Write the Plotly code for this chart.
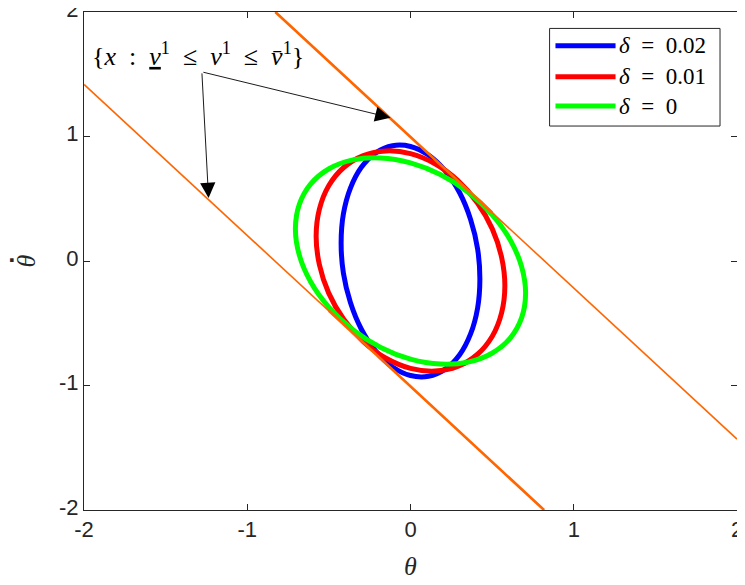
import plotly.graph_objects as go

# ---- data ----
blue_theta = [0.425, 0.411, 0.368, 0.301, 0.213, 0.110, 0.0, -0.110, -0.213, -0.301, -0.368, -0.411,
              -0.425, -0.411, -0.368, -0.301, -0.213, -0.110, 0.0, 0.110, 0.213, 0.301, 0.368, 0.411, 0.425]
blue_thetadot = [-0.145, 0.098, 0.334, 0.548, 0.724, 0.851, 0.920, 0.926, 0.869, 0.753, 0.586, 0.378,
                 0.145, -0.098, -0.334, -0.548, -0.724, -0.851, -0.920, -0.926, -0.869, -0.753, -0.586, -0.378, -0.145]

red_theta = [0.578, 0.558, 0.501, 0.409, 0.289, 0.150, 0.0, -0.150, -0.289, -0.409, -0.501, -0.558,
             -0.578, -0.558, -0.501, -0.409, -0.289, -0.150, 0.0, 0.150, 0.289, 0.409, 0.501, 0.558, 0.578]
red_thetadot = [-0.200, 0.030, 0.258, 0.468, 0.647, 0.781, 0.862, 0.884, 0.847, 0.751, 0.604, 0.416,
                0.200, -0.030, -0.258, -0.468, -0.647, -0.781, -0.862, -0.884, -0.847, -0.751, -0.604, -0.416, -0.200]

green_theta = [0.705, 0.681, 0.611, 0.499, 0.353, 0.183, 0.0, -0.183, -0.353, -0.499, -0.611, -0.681,
               -0.705, -0.681, -0.611, -0.499, -0.353, -0.183, 0.0, 0.183, 0.353, 0.499, 0.611, 0.681, 0.705]
green_thetadot = [-0.260, -0.047, 0.169, 0.373, 0.552, 0.694, 0.788, 0.828, 0.812, 0.741, 0.619, 0.455,
                  0.260, 0.047, -0.169, -0.373, -0.552, -0.694, -0.788, -0.828, -0.812, -0.741, -0.619, -0.455, -0.260]

# constraint lines  v^1 = upper / lower bound
upper_theta = [-0.828, 2.0]
upper_thetadot = [2.0, -1.43]
upper_thick_theta = [-0.828, 0.50]
upper_thick_thetadot = [2.0, 0.39]
lower_theta = [-2.0, 0.818]
lower_thetadot = [1.418, -2.0]
lower_thick_theta = [-0.50, 0.818]
lower_thick_thetadot = [-0.40, -2.0]

EN = "\u2002"
legend_labels = [f"<i>δ</i>{EN}={EN}0.02", f"<i>δ</i>{EN}={EN}0.01", f"<i>δ</i>{EN}={EN}0"]
colors = ["#0000FF", "#FF0000", "#00FF00"]
x_ticks = [-2, -1, 0, 1, 2]
y_ticks = [-2, -1, 0, 1, 2]

annot_text = ("{<i>x</i>" + EN + ":" + EN + "<u><i>v</i></u><sup>1</sup>" + EN + "≤" + EN +
              "<i>v</i><sup>1</sup>" + EN + "≤" + EN + "<i>v̄</i><sup>1</sup>}")
annot_tail = (-1.278, 1.519)
annot_tips = [(-0.123, 1.151), (-1.237, 0.506)]
annot_pos = (-1.30, 1.66)

ORANGE = "#FF6600"
SERIF = "Liberation Serif"

fig = go.Figure()
for xs, ys, c, lab in zip([blue_theta, red_theta, green_theta],
                          [blue_thetadot, red_thetadot, green_thetadot], colors, legend_labels):
    fig.add_trace(go.Scatter(x=xs, y=ys, mode="lines", line=dict(color=c, width=5, shape="spline", smoothing=1.0),
                             name=lab, showlegend=False, hoverinfo="skip"))

for xs, ys, w in [(upper_theta, upper_thetadot, 1.6), (lower_theta, lower_thetadot, 1.6),
                  (upper_thick_theta, upper_thick_thetadot, 2.6), (lower_thick_theta, lower_thick_thetadot, 2.6)]:
    fig.add_trace(go.Scatter(x=xs, y=ys, mode="lines", line=dict(color=ORANGE, width=w),
                             showlegend=False, hoverinfo="skip"))

# manual legend (MATLAB-like long line samples)
shapes = [dict(type="rect", xref="paper", yref="paper", x0=0.713, x1=0.974, y0=0.771, y1=0.967,
               line=dict(color="#262626", width=1), fillcolor="white", layer="above")]
annotations = []
row_y = [0.932, 0.870, 0.811]
for ry, c, lab in zip(row_y, colors, legend_labels):
    shapes.append(dict(type="line", xref="paper", yref="paper", x0=0.722, x1=0.814, y0=ry, y1=ry,
                       line=dict(color=c, width=5), layer="above"))
    annotations.append(dict(xref="paper", yref="paper", x=0.816, y=ry, text=lab, showarrow=False,
                            xanchor="left", yanchor="middle", font=dict(family=SERIF, size=23, color="black")))

# annotation text and arrows
annotations.append(dict(x=annot_pos[0], y=annot_pos[1], xref="x", yref="y", text=annot_text, showarrow=False,
                        xanchor="center", yanchor="middle", font=dict(family=SERIF, size=26, color="black")))
for tx, ty in annot_tips:
    annotations.append(dict(x=tx, y=ty, ax=annot_tail[0], ay=annot_tail[1], xref="x", yref="y",
                            axref="x", ayref="y", text="", showarrow=True, arrowhead=2, arrowsize=3.4,
                            arrowwidth=0.9, arrowcolor="black"))

# dot of the theta-dot axis label (sits above the rotated theta, i.e. to its left)
annotations.append(dict(xref="paper", yref="paper", x=0, y=0.5, xshift=-72, yshift=6, text="<b>.</b>",
                        showarrow=False, xanchor="center", yanchor="middle",
                        font=dict(family="DejaVu Sans", size=20, color="#262626")))

axis_common = dict(showgrid=False, zeroline=False, ticks="inside", ticklen=6, tickwidth=1,
                   tickcolor="#262626", showline=True, linecolor="#262626", linewidth=1, mirror="ticks",
                   automargin=False, ticklabeloverflow="allow",
                   tickfont=dict(family="Liberation Sans", size=22, color="#262626"))

fig.update_layout(
    width=737, height=577,
    margin=dict(l=76, r=8, t=4, b=75),
    paper_bgcolor="white", plot_bgcolor="white",
    xaxis=dict(range=[-2, 2], tickvals=x_ticks, ticktext=[str(v) for v in x_ticks],
               title=dict(text="<i>θ</i>", font=dict(family=SERIF, size=26, color="#262626")),
               **axis_common),
    yaxis=dict(range=[-2, 2], tickvals=y_ticks, ticktext=[str(v) for v in y_ticks], ticklabelshift=-3,
               title=dict(text="<i>θ</i>", font=dict(family=SERIF, size=26, color="#262626")),
               **axis_common),
    shapes=shapes,
    annotations=annotations,
)

fig.write_html("out.html")
